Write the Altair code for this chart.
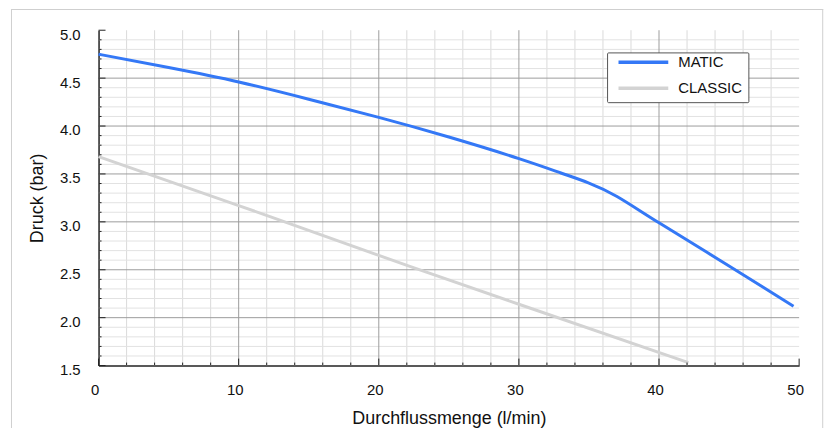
import altair as alt
import pandas as pd

# ---- data ----
matic_x = [0, 5, 10, 15, 20, 25, 30, 33, 35, 37, 40, 45, 49.6]
matic_y = [4.75, 4.61, 4.46, 4.28, 4.09, 3.885, 3.66, 3.51, 3.405, 3.265, 2.99, 2.54, 2.12]
classic_x = [0, 10, 20, 30, 42.1]
classic_y = [3.68, 3.17, 2.65, 2.14, 1.53]

series_names = ["MATIC", "CLASSIC"]
series_colors = ["#3478F6", "#D3D3D3"]

x_labels = [0, 10, 20, 30, 40, 50]
y_labels = [1.5, 2.0, 2.5, 3.0, 3.5, 4.0, 4.5, 5.0]
x_major_grid = [10, 20, 30, 40]
x_minor_grid = [2, 4, 6, 8, 12, 14, 16, 18, 22, 24, 26, 28, 32, 34, 36, 38, 42, 44, 46, 48]
y_major_grid = [2.0, 2.5, 3.0, 3.5, 4.0, 4.5]
y_minor_grid = [1.6, 1.7, 1.8, 1.9, 2.1, 2.2, 2.3, 2.4, 2.6, 2.7, 2.8, 2.9,
                3.1, 3.2, 3.3, 3.4, 3.6, 3.7, 3.8, 3.9, 4.1, 4.2, 4.3, 4.4,
                4.6, 4.7, 4.8, 4.9]

W, H = 704, 337
FONT = "Liberation Sans"

lines_df = pd.DataFrame({
    "x": matic_x + classic_x,
    "y": matic_y + classic_y,
    "series": ["MATIC"] * len(matic_x) + ["CLASSIC"] * len(classic_x),
})

xs = alt.Scale(domain=[0, 50], nice=False, zero=False)
ys = alt.Scale(domain=[1.5, 5.0], nice=False, zero=False)

x_axis = alt.Axis(values=x_labels, grid=False, ticks=False, labelPadding=17, labelFlush=False,
                  labelOffset=-4, titlePadding=12)
y_axis = alt.Axis(values=y_labels, format=".1f", grid=False, ticks=False,
                  labelPadding=18.5, labelOffset=4, titlePadding=13)

def X():
    return alt.X("x:Q", scale=xs, title="Durchflussmenge (l/min)", axis=x_axis)

def Y():
    return alt.Y("y:Q", scale=ys, title="Druck (bar)", axis=y_axis)

lines = alt.Chart(lines_df).mark_line(strokeWidth=3, interpolate="natural").encode(
    x=X(), y=Y(),
    color=alt.Color("series:N",
                    scale=alt.Scale(domain=series_names, range=series_colors),
                    sort=series_names,
                    legend=alt.Legend(title=None, orient="none", legendX=511, legendY=22.3,
                                      symbolType="stroke", symbolSize=2500,
                                      symbolStrokeWidth=3.5, clipHeight=9, rowPadding=10,
                                      padding=5.5, symbolOffset=4, labelOffset=8,
                                      labelFontSize=15, labelFont=FONT, labelColor="#111",
                                      strokeColor="#555555", fillColor="white",
                                      cornerRadius=1)),
)

def vrules(vals, color, width=1):
    return alt.Chart(pd.DataFrame({"x": vals})).mark_rule(color=color, strokeWidth=width).encode(
        x=X())

def hrules(vals, color, width=1):
    return alt.Chart(pd.DataFrame({"y": vals})).mark_rule(color=color, strokeWidth=width).encode(
        y=Y())

grid_layers = [
    vrules(x_minor_grid, "#dadada"),
    hrules(y_minor_grid, "#e2e2e2"),
    vrules(x_major_grid, "#9c9c9c"),
    hrules(y_major_grid, "#9c9c9c"),
]

def xticks(vals, length):
    return alt.Chart(pd.DataFrame({"x": vals})).mark_rule(color="#222", strokeWidth=1).encode(
        x=X(), y=alt.value(H), y2=alt.value(H - length))

def yticks(vals, length):
    return alt.Chart(pd.DataFrame({"y": vals})).mark_rule(color="#222", strokeWidth=1).encode(
        y=Y(), x=alt.value(0), x2=alt.value(length))

tick_layers = [
    xticks(x_labels, 7), xticks(x_minor_grid, 3),
    yticks(y_labels, 7), yticks(y_minor_grid, 3),
]

one = pd.DataFrame({"a": [0]})
border_color = "#cfcfcf"
border = [
    alt.Chart(one).mark_rule(color=border_color, strokeWidth=1).encode(
        x=alt.value(-88), x2=alt.value(728.2), y=alt.value(-20.8)),
    alt.Chart(one).mark_rule(color=border_color, strokeWidth=1).encode(
        x=alt.value(-87.5), y=alt.value(-21.3), y2=alt.value(400)),
    alt.Chart(one).mark_rule(color=border_color, strokeWidth=1).encode(
        x=alt.value(727.7), y=alt.value(-21.3), y2=alt.value(400)),
]

chart = alt.layer(*grid_layers, lines, *tick_layers, *border).properties(
    width=W, height=H,
    autosize=alt.AutoSizeParams(type="none"),
    padding={"left": 91, "top": 21.3, "right": 26, "bottom": 61.7},
).configure_view(stroke=None).configure_axis(
    labelFont=FONT, labelFontSize=15, labelColor="#111",
    titleFont=FONT, titleFontSize=18, titleFontWeight="normal", titleColor="#111",
    domainColor="#222", domainWidth=1.5,
)

chart.save("out.html", embed_options={"renderer": "svg", "actions": False})
